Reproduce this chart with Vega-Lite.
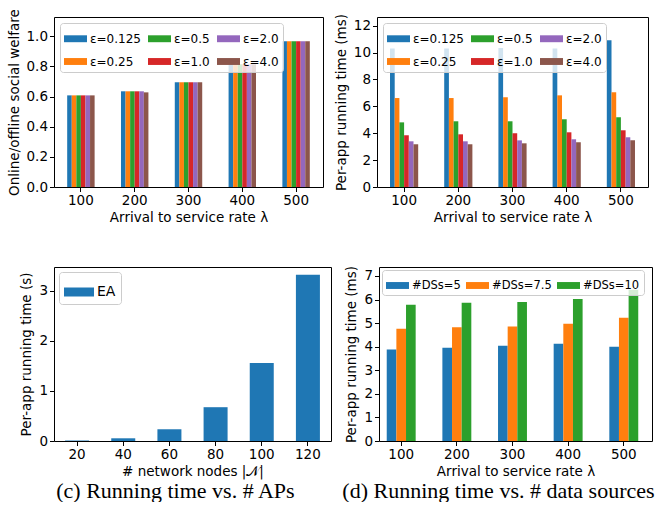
{
  "$schema": "https://vega.github.io/schema/vega-lite/v6.json",
  "background": "white",
  "padding": {"left": 6, "top": 8, "right": 2, "bottom": 0},
  "config": {
    "font": "DejaVu Sans",
    "view": {"stroke": "black", "strokeWidth": 1},
    "axis": {"domain": false, "grid": false, "tickColor": "black", "tickSize": 4.5, "tickWidth": 1, "labelColor": "black", "labelFontSize": 13.5, "titleFontSize": 13.5, "titleFontWeight": "normal", "titleColor": "black", "labelPadding": 2, "titlePadding": 5, "labelFont": "DejaVu Sans", "titleFont": "DejaVu Sans"},
    "axisX": {"labelAngle": 0, "titlePadding": 3},
    "legend": {"orient": "top-left", "offset": 6, "fillColor": "rgba(255,255,255,0.8)", "strokeColor": "#cccccc", "cornerRadius": 3, "padding": 4, "labelFontSize": 12, "labelColor": "black", "labelFont": "DejaVu Sans", "symbolType": "M-1,-0.3H1V0.3H-1Z", "symbolSize": 529, "symbolStrokeWidth": 0, "symbolOpacity": 1, "columnPadding": 7, "rowPadding": 5, "labelOffset": 3, "direction": "horizontal"},
    "title": {"font": "Liberation Serif", "fontSize": 22, "fontWeight": "normal", "color": "black", "orient": "bottom", "anchor": "middle", "offset": 3, "frame": "bounds"}
  },
  "spacing": 40,
  "resolve": {"scale": {"color": "independent", "x": "independent", "y": "independent", "xOffset": "independent"}, "legend": {"color": "independent"}},
  "vconcat": [
    {
      "spacing": 9,
      "resolve": {"scale": {"color": "independent", "x": "independent", "y": "independent", "xOffset": "independent"}, "legend": {"color": "independent"}},
      "hconcat": [
        {
          "width": 269, "height": 170,
          "data": {"values": [
            {"rate": "100", "eps": "ε=0.125", "v": 0.608}, {"rate": "100", "eps": "ε=0.25", "v": 0.608}, {"rate": "100", "eps": "ε=0.5", "v": 0.608}, {"rate": "100", "eps": "ε=1.0", "v": 0.608}, {"rate": "100", "eps": "ε=2.0", "v": 0.608}, {"rate": "100", "eps": "ε=4.0", "v": 0.608},
            {"rate": "200", "eps": "ε=0.125", "v": 0.635}, {"rate": "200", "eps": "ε=0.25", "v": 0.635}, {"rate": "200", "eps": "ε=0.5", "v": 0.635}, {"rate": "200", "eps": "ε=1.0", "v": 0.635}, {"rate": "200", "eps": "ε=2.0", "v": 0.635}, {"rate": "200", "eps": "ε=4.0", "v": 0.628},
            {"rate": "300", "eps": "ε=0.125", "v": 0.695}, {"rate": "300", "eps": "ε=0.25", "v": 0.695}, {"rate": "300", "eps": "ε=0.5", "v": 0.695}, {"rate": "300", "eps": "ε=1.0", "v": 0.695}, {"rate": "300", "eps": "ε=2.0", "v": 0.695}, {"rate": "300", "eps": "ε=4.0", "v": 0.695},
            {"rate": "400", "eps": "ε=0.125", "v": 0.814}, {"rate": "400", "eps": "ε=0.25", "v": 0.814}, {"rate": "400", "eps": "ε=0.5", "v": 0.814}, {"rate": "400", "eps": "ε=1.0", "v": 0.814}, {"rate": "400", "eps": "ε=2.0", "v": 0.814}, {"rate": "400", "eps": "ε=4.0", "v": 0.814},
            {"rate": "500", "eps": "ε=0.125", "v": 0.967}, {"rate": "500", "eps": "ε=0.25", "v": 0.967}, {"rate": "500", "eps": "ε=0.5", "v": 0.967}, {"rate": "500", "eps": "ε=1.0", "v": 0.967}, {"rate": "500", "eps": "ε=2.0", "v": 0.967}, {"rate": "500", "eps": "ε=4.0", "v": 0.967}
          ]},
          "mark": {"type": "bar"},
          "encoding": {
            "x": {"field": "rate", "type": "nominal", "title": "Arrival to service rate λ", "scale": {"paddingInner": 0.49, "paddingOuter": 0.245}},
            "xOffset": {"field": "eps", "type": "nominal", "scale": {"domain": ["ε=0.125", "ε=0.25", "ε=0.5", "ε=1.0", "ε=2.0", "ε=4.0"], "paddingInner": 0, "paddingOuter": 0}},
            "y": {"field": "v", "type": "quantitative", "title": "Online/offline social welfare", "scale": {"domain": [0, 1.128], "nice": false}, "axis": {"values": [0, 0.2, 0.4, 0.6, 0.8, 1.0], "format": ".1f"}},
            "color": {"field": "eps", "type": "nominal", "scale": {"domain": ["ε=0.125", "ε=0.5", "ε=2.0", "ε=0.25", "ε=1.0", "ε=4.0"], "range": ["#1f77b4", "#2ca02c", "#9467bd", "#ff7f0e", "#d62728", "#8c564b"]}, "legend": {"title": null, "columns": 3}}
          }
        },
        {
          "width": 271, "height": 170,
          "data": {"values": [
            {"rate": "100", "eps": "ε=0.125", "v": 10.3}, {"rate": "100", "eps": "ε=0.25", "v": 6.62}, {"rate": "100", "eps": "ε=0.5", "v": 4.81}, {"rate": "100", "eps": "ε=1.0", "v": 3.85}, {"rate": "100", "eps": "ε=2.0", "v": 3.40}, {"rate": "100", "eps": "ε=4.0", "v": 3.18},
            {"rate": "200", "eps": "ε=0.125", "v": 10.3}, {"rate": "200", "eps": "ε=0.25", "v": 6.62}, {"rate": "200", "eps": "ε=0.5", "v": 4.89}, {"rate": "200", "eps": "ε=1.0", "v": 3.92}, {"rate": "200", "eps": "ε=2.0", "v": 3.40}, {"rate": "200", "eps": "ε=4.0", "v": 3.18},
            {"rate": "300", "eps": "ε=0.125", "v": 10.35}, {"rate": "300", "eps": "ε=0.25", "v": 6.67}, {"rate": "300", "eps": "ε=0.5", "v": 4.89}, {"rate": "300", "eps": "ε=1.0", "v": 4.00}, {"rate": "300", "eps": "ε=2.0", "v": 3.47}, {"rate": "300", "eps": "ε=4.0", "v": 3.25},
            {"rate": "400", "eps": "ε=0.125", "v": 10.3}, {"rate": "400", "eps": "ε=0.25", "v": 6.82}, {"rate": "400", "eps": "ε=0.5", "v": 5.04}, {"rate": "400", "eps": "ε=1.0", "v": 4.07}, {"rate": "400", "eps": "ε=2.0", "v": 3.55}, {"rate": "400", "eps": "ε=4.0", "v": 3.33},
            {"rate": "500", "eps": "ε=0.125", "v": 10.92}, {"rate": "500", "eps": "ε=0.25", "v": 7.05}, {"rate": "500", "eps": "ε=0.5", "v": 5.19}, {"rate": "500", "eps": "ε=1.0", "v": 4.22}, {"rate": "500", "eps": "ε=2.0", "v": 3.70}, {"rate": "500", "eps": "ε=4.0", "v": 3.47}
          ]},
          "mark": {"type": "bar"},
          "encoding": {
            "x": {"field": "rate", "type": "nominal", "title": "Arrival to service rate λ", "scale": {"paddingInner": 0.48, "paddingOuter": 0.24}},
            "xOffset": {"field": "eps", "type": "nominal", "scale": {"domain": ["ε=0.125", "ε=0.25", "ε=0.5", "ε=1.0", "ε=2.0", "ε=4.0"], "paddingInner": 0, "paddingOuter": 0}},
            "y": {"field": "v", "type": "quantitative", "title": "Per-app running time (ms)", "scale": {"domain": [0, 12.65], "nice": false}, "axis": {"values": [0, 2, 4, 6, 8, 10, 12]}},
            "color": {"field": "eps", "type": "nominal", "scale": {"domain": ["ε=0.125", "ε=0.5", "ε=2.0", "ε=0.25", "ε=1.0", "ε=4.0"], "range": ["#1f77b4", "#2ca02c", "#9467bd", "#ff7f0e", "#d62728", "#8c564b"]}, "legend": {"title": null, "columns": 3}}
          }
        }
      ]
    },
    {
      "spacing": 9,
      "resolve": {"scale": {"color": "independent", "x": "independent", "y": "independent", "xOffset": "independent"}, "legend": {"color": "independent"}},
      "hconcat": [
        {
          "width": 277, "height": 174,
          "title": {"text": "(c) Running time vs. # APs"},
          "data": {"values": [
            {"n": "20", "alg": "EA", "v": 0.01}, {"n": "40", "alg": "EA", "v": 0.054}, {"n": "60", "alg": "EA", "v": 0.234}, {"n": "80", "alg": "EA", "v": 0.674}, {"n": "100", "alg": "EA", "v": 1.554}, {"n": "120", "alg": "EA", "v": 3.314}
          ]},
          "mark": {"type": "bar"},
          "encoding": {
            "x": {"field": "n", "type": "nominal", "sort": null, "title": "# network nodes |𝒩|", "scale": {"paddingInner": 0.48, "paddingOuter": 0.24}},
            "y": {"field": "v", "type": "quantitative", "title": "Per-app running time (s)", "scale": {"domain": [0, 3.47], "nice": false}, "axis": {"values": [0, 1, 2, 3]}},
            "color": {"field": "alg", "type": "nominal", "scale": {"range": ["#1f77b4"]}, "legend": {"title": null, "labelFontSize": 14, "symbolSize": 900, "offset": 5, "padding": 5}}
          }
        },
        {
          "width": 273, "height": 174,
          "title": {"text": "(d) Running time vs. # data sources"},
          "data": {"values": [
            {"rate": "100", "ds": "#DSs=5", "v": 3.88}, {"rate": "100", "ds": "#DSs=7.5", "v": 4.76}, {"rate": "100", "ds": "#DSs=10", "v": 5.78},
            {"rate": "200", "ds": "#DSs=5", "v": 3.96}, {"rate": "200", "ds": "#DSs=7.5", "v": 4.82}, {"rate": "200", "ds": "#DSs=10", "v": 5.86},
            {"rate": "300", "ds": "#DSs=5", "v": 4.04}, {"rate": "300", "ds": "#DSs=7.5", "v": 4.86}, {"rate": "300", "ds": "#DSs=10", "v": 5.90},
            {"rate": "400", "ds": "#DSs=5", "v": 4.13}, {"rate": "400", "ds": "#DSs=7.5", "v": 4.97}, {"rate": "400", "ds": "#DSs=10", "v": 6.02},
            {"rate": "500", "ds": "#DSs=5", "v": 4.00}, {"rate": "500", "ds": "#DSs=7.5", "v": 5.23}, {"rate": "500", "ds": "#DSs=10", "v": 6.41}
          ]},
          "mark": {"type": "bar"},
          "encoding": {
            "x": {"field": "rate", "type": "nominal", "title": "Arrival to service rate λ", "scale": {"paddingInner": 0.48, "paddingOuter": 0.193, "align": 0.36}},
            "xOffset": {"field": "ds", "type": "nominal", "scale": {"domain": ["#DSs=5", "#DSs=7.5", "#DSs=10"], "paddingInner": 0, "paddingOuter": 0}},
            "y": {"field": "v", "type": "quantitative", "title": "Per-app running time (ms)", "scale": {"domain": [0, 7.38], "nice": false}, "axis": {"values": [0, 1, 2, 3, 4, 5, 6, 7]}},
            "color": {"field": "ds", "type": "nominal", "scale": {"domain": ["#DSs=5", "#DSs=7.5", "#DSs=10"], "range": ["#1f77b4", "#ff7f0e", "#2ca02c"]}, "legend": {"title": null, "columns": 3, "offset": 3, "columnPadding": 5, "labelFontSize": 11.5}}
          }
        }
      ]
    }
  ]
}
